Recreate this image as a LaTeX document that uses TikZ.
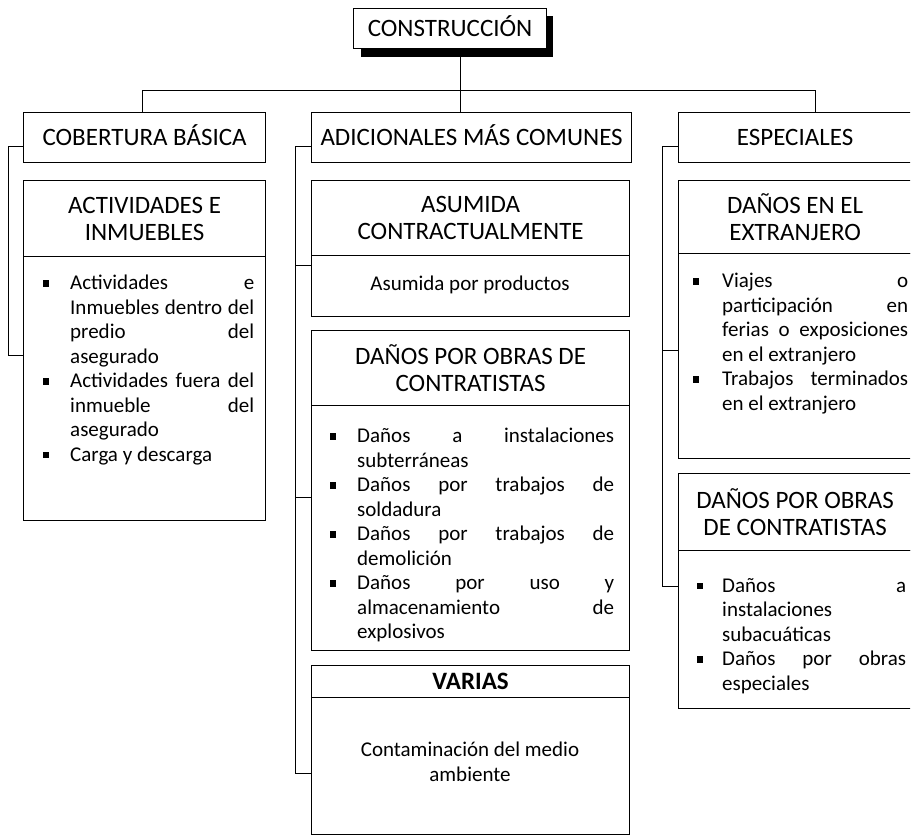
\documentclass[tikz,border=0pt]{standalone}
\usepackage{fontspec}
\setmainfont{Carlito}
\newcommand\bul[1][27pt]{\makebox[#1][l]{\rule[3pt]{6pt}{6.5pt}}}
\begin{document}
\begin{tikzpicture}[x=1pt,y=-1pt,
  box/.style={draw, line width=1.2pt, fill=white, rectangle, inner sep=0pt, anchor=north west},
  hdr/.style={font=\fontsize{25}{27}\selectfont, align=center},
  hdrone/.style={hdr, text height=16pt, text depth=0pt},
  bodytxt/.style={font=\fontsize{21}{24.5}\selectfont, inner sep=0pt, anchor=north west, align=left},
  ctxt/.style={font=\fontsize{21}{24.5}\selectfont, inner sep=0pt, align=center},
  link/.style={line width=0.9pt}]
\useasboundingbox (0,0) rectangle (911,837);
\clip (0,0) rectangle (910,837);

% helper coordinates
\coordinate (tr) at (460,90);
\coordinate (bl) at (142,90);
\coordinate (br) at (815,90);
\coordinate (kL) at (8,146);
\coordinate (jL) at (8,355);
\coordinate (kM) at (295,146);
\coordinate (jM1) at (295,265);
\coordinate (jM2) at (295,497);
\coordinate (jM3) at (295,773);
\coordinate (kR) at (662,146);
\coordinate (jR1) at (662,350);
\coordinate (jR2) at (662,586);

% shadow of top box
\fill (361,16) rectangle (553,57);
\node[box, hdrone, minimum width=193, minimum height=40] (cons) at (353,8) {CONSTRUCCIÓN};

% level 1
\node[box, hdrone, minimum width=242, minimum height=50] (cob) at (23,112) {COBERTURA BÁSICA};
\node[box, hdrone, minimum width=320, minimum height=50] (adic) at (311,112) {ADICIONALES MÁS COMUNES};
\node[box, hdrone, minimum width=233, minimum height=50] (esp) at (678,112) {ESPECIALES};

% left column
\node[box, hdr, minimum width=242, minimum height=76] (acth) at (23,180) {ACTIVIDADES E\\INMUEBLES};
\node[box, minimum width=242, minimum height=264] (actb) at (23,256) {};
\node[bodytxt] (actt) at (43,275) {%
\bul\makebox[184pt][s]{Actividades\hfill e}\\
\hspace*{27pt}\makebox[184pt][s]{Inmuebles dentro del}\\
\hspace*{27pt}\makebox[184pt][s]{predio\hfill del}\\
\hspace*{27pt}asegurado\\
\bul\makebox[184pt][s]{Actividades fuera del}\\
\hspace*{27pt}\makebox[184pt][s]{inmueble\hfill del}\\
\hspace*{27pt}asegurado\\
\bul Carga y descarga};

% middle column
\node[box, hdr, minimum width=318, minimum height=75] (asuh) at (311,180) {ASUMIDA\\CONTRACTUALMENTE};
\node[box, minimum width=318, minimum height=61] (asub) at (311,255) {};
\node[ctxt] (asut) at (470,285) {Asumida por productos};

\node[box, hdr, minimum width=318, minimum height=75] (danh) at (311,330) {DAÑOS POR OBRAS DE\\CONTRATISTAS};
\node[box, minimum width=318, minimum height=245] (danb) at (311,405) {};
\node[bodytxt] (dant) at (330,428) {%
\bul\makebox[257pt][s]{Daños\hfill a\hfill instalaciones}\\
\hspace*{27pt}subterráneas\\
\bul\makebox[257pt][s]{Daños\hfill por\hfill trabajos\hfill de}\\
\hspace*{27pt}soldadura\\
\bul\makebox[257pt][s]{Daños\hfill por\hfill trabajos\hfill de}\\
\hspace*{27pt}demolición\\
\bul\makebox[257pt][s]{Daños\hfill por\hfill uso\hfill y}\\
\hspace*{27pt}\makebox[257pt][s]{almacenamiento\hfill de}\\
\hspace*{27pt}explosivos};

\node[box, hdrone, font=\fontsize{25}{27}\selectfont\bfseries, minimum width=318, minimum height=32] (varh) at (311,665) {VARIAS};
\node[box, minimum width=318, minimum height=137] (varb) at (311,697) {};
\node[ctxt] (vart) at (470,762) {Contaminación del medio\\ambiente};

% right column
\node[box, hdr, minimum width=233, minimum height=73] (extrh) at (678,180) {DAÑOS EN EL\\EXTRANJERO};
\node[box, minimum width=233, minimum height=205] (extrb) at (678,253) {};
\node[bodytxt] (extrt) at (693,273) {%
\bul[29pt]\makebox[186pt][s]{Viajes\hfill o}\\
\hspace*{29pt}\makebox[186pt][s]{participación\hfill en}\\
\hspace*{29pt}\makebox[186pt][s]{ferias o exposiciones}\\
\hspace*{29pt}en el extranjero\\
\bul[29pt]\makebox[186pt][s]{Trabajos terminados}\\
\hspace*{29pt}en el extranjero};

\node[box, hdr, minimum width=233, minimum height=77] (obrh) at (678,473) {DAÑOS POR OBRAS\\DE CONTRATISTAS};
\node[box, minimum width=233, minimum height=158] (obrb) at (678,550) {};
\node[bodytxt] (obrt) at (697,578) {%
\bul[25pt]\makebox[184pt][s]{Daños\hfill a}\\
\hspace*{25pt}instalaciones\\
\hspace*{25pt}subacuáticas\\
\bul[25pt]\makebox[184pt][s]{Daños\hfill por\hfill obras}\\
\hspace*{25pt}especiales};

% connectors
\draw[link] (tr |- cons.south) -- (tr |- adic.north);
\draw[link] (bl |- cob.north) -- (bl) -- (br) -- (br |- esp.north);
\draw[link] (kL -| cob.west) -- (kL) -- (jL) -- (jL -| actb.west);
\draw[link] (kM -| adic.west) -- (kM) -- (jM3) -- (jM3 -| varb.west);
\draw[link] (jM1) -- (jM1 -| asub.west);
\draw[link] (jM2) -- (jM2 -| danb.west);
\draw[link] (kR -| esp.west) -- (kR) -- (jR2) -- (jR2 -| obrb.west);
\draw[link] (jR1) -- (jR1 -| extrb.west);
\end{tikzpicture}
\end{document}
